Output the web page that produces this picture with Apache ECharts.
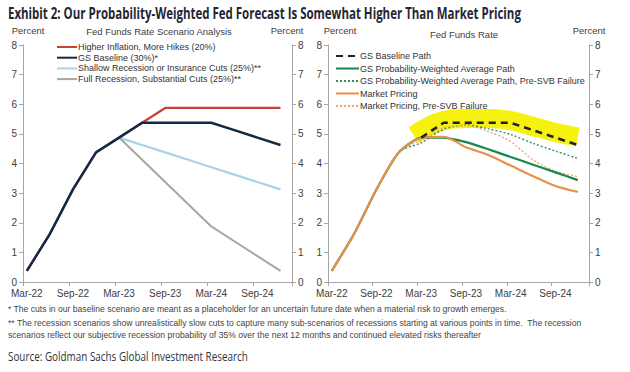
<!DOCTYPE html>
<html><head><meta charset="utf-8">
<script src="https://cdn.jsdelivr.net/npm/echarts@6/dist/echarts.min.js"></script>
<style>html,body{margin:0;padding:0;background:#fff}#c{width:630px;height:372px}</style>
</head><body><div id="c"></div>
<script>
// Monthly category axis (Mar-22 .. Jan-25)
const months = ['Mar-22','Apr-22','May-22','Jun-22','Jul-22','Aug-22','Sep-22','Oct-22','Nov-22','Dec-22','Jan-23','Feb-23',
  'Mar-23','Apr-23','May-23','Jun-23','Jul-23','Aug-23','Sep-23','Oct-23','Nov-23','Dec-23','Jan-24','Feb-24',
  'Mar-24','Apr-24','May-24','Jun-24','Jul-24','Aug-24','Sep-24','Oct-24','Nov-24','Dec-24','Jan-25'];
// Quarterly observation dates
const quarters = ['Mar-22','Jun-22','Sep-22','Dec-22','Mar-23','Jun-23','Sep-23','Dec-23','Mar-24','Jun-24','Sep-24','Dec-24'];
const yTicks = [0,1,2,3,4,5,6,7,8];

// Left panel: scenario analysis
const higherInflation = [0.375,1.625,3.125,4.375,4.875,5.375,5.875,5.875,5.875,5.875,5.875,5.875];
const gsBaseline      = [0.375,1.625,3.125,4.375,4.875,5.375,5.375,5.375,5.375,5.125,4.875,4.625];
const shallowRec      = [null,null,null,null,4.875,4.625,4.375,4.125,3.875,3.625,3.375,3.125];
const fullRec         = [null,null,null,null,4.875,4.125,3.375,2.625,1.875,1.375,0.875,0.375];

// Right panel: paths vs. market pricing
const baselinePath    = [null,null,null,null,4.875,5.375,5.375,5.375,5.375,5.125,4.875,4.625];
const probWeighted    = [0.375,1.625,3.125,4.375,4.875,4.875,4.72,4.48,4.22,3.96,3.70,3.44];
const probWeightedPre = [0.375,1.625,3.125,4.375,4.70,5.15,5.30,5.17,4.98,4.68,4.42,4.17];
const marketPricing   = [0.375,1.625,3.125,4.375,4.86,4.90,4.55,4.29,3.93,3.57,3.24,3.04];
const marketPricingPre= [0.375,1.625,3.125,4.375,4.80,5.20,5.28,5.08,4.74,4.12,3.74,3.56];
// Yellow hand highlight behind baseline path
const hlDates  = ['Feb-23','Jun-23','Sep-23','Dec-23','Mar-24','Jun-24','Sep-24','Dec-24'];
const hlValues = [4.95,5.45,5.52,5.52,5.45,5.25,5.05,4.9];

const titleText = 'Exhibit 2: Our Probability-Weighted Fed Forecast Is Somewhat Higher Than Market Pricing';
const sourceText = 'Source: Goldman Sachs Global Investment Research';

const zip = (cats, vals) => cats.map((c,i)=>[c, vals[i]]).filter(d=>d[1]!==null);

const FONT = '"Liberation Sans", Arial, sans-serif';
const axisGray = '#a6a6a6';
const labelColor = '#404040';

// measure text to fit condensed headline widths
const mctx = document.createElement('canvas').getContext('2d');
function fitScale(text, font, target){ mctx.font = font; return target / mctx.measureText(text).width; }
const titleFont = 'bold 16px "Open Sans", "Liberation Sans", sans-serif';
const sourceFont = '13px "Open Sans", "Liberation Sans", sans-serif';
const titleScale = fitScale(titleText, titleFont, 514);
const sourceScale = fitScale(sourceText, sourceFont, 240);

function xAxis(gi){
  return {type:'category', gridIndex:gi, data:months, boundaryGap:true,
    axisLine:{lineStyle:{color:axisGray}},
    axisTick:{show:true, interval:5, length:4, lineStyle:{color:axisGray}},
    axisLabel:{interval:5, color:labelColor, fontSize:10, fontFamily:FONT, margin:6},
    splitLine:{show:false}};
}
function yAxis(gi, pos){
  return {type:'value', gridIndex:gi, position:pos, min:0, max:8, interval:1,
    axisLine:{show:true, lineStyle:{color:axisGray}},
    axisTick:{show:true, length:4, lineStyle:{color:axisGray}},
    axisLabel:{color:labelColor, fontSize:10, fontFamily:FONT, margin:6,
      formatter:v=>yTicks.includes(v)?String(v):''},
    splitLine:{show:false}};
}
function line(name, xi, yi, cats, vals, color, width, extra){
  return Object.assign({name, type:'line', xAxisIndex:xi, yAxisIndex:yi, data:zip(cats, vals),
    symbol:'none', connectNulls:true, silent:true, animation:false,
    lineStyle:{color, width}, itemStyle:{color}}, extra||{});
}

const chart = echarts.init(document.getElementById('c'), null, {renderer:'svg'});
const txt = (x,y,t,opt,extra)=>Object.assign({type:'text', x, y, style:Object.assign({text:t, fill:'#404040', font:'10px '+FONT, textAlign:'center', textVerticalAlign:'middle'}, opt||{})}, extra||{});

const legendText = {fontSize:9, color:'#333', fontFamily:FONT, lineHeight:10, padding:[0,0,0,-4]};

chart.setOption({
  animation:false,
  backgroundColor:'#fff',
  grid:[
    {left:23, right:338, top:45, bottom:90},
    {left:328, right:41, top:45, bottom:90}
  ],
  xAxis:[xAxis(0), xAxis(1)],
  yAxis:[yAxis(0,'left'), yAxis(0,'right'), yAxis(1,'left'), yAxis(1,'right')],
  legend:[
    {left:56, top:42, orient:'vertical', itemWidth:20, itemHeight:8, itemGap:0.7, padding:0,
     itemStyle:{opacity:0}, textStyle:legendText,
     data:['Higher Inflation, More Hikes (20%)','GS Baseline (30%)*','Shallow Recession or Insurance Cuts (25%)**','Full Recession, Substantial Cuts (25%)**']},
    {left:335, top:51, orient:'vertical', itemWidth:23, itemHeight:8, itemGap:2.5, padding:0,
     itemStyle:{opacity:0}, textStyle:legendText,
     data:['GS Baseline Path','GS Probability-Weighted Average Path','GS Probability-Weighted Average Path, Pre-SVB Failure','Market Pricing','Market Pricing, Pre-SVB Failure']}
  ],
  series:[
    line('Higher Inflation, More Hikes (20%)',0,0,quarters,higherInflation,'#c9403c',2.2),
    line('Shallow Recession or Insurance Cuts (25%)**',0,0,quarters,shallowRec,'#a8d2ea',2.2),
    line('Full Recession, Substantial Cuts (25%)**',0,0,quarters,fullRec,'#a6a6a6',2),
    line('GS Baseline (30%)*',0,0,quarters,gsBaseline,'#112a47',2.5),

    line('highlight',1,2,hlDates,hlValues,'#f5f000',19,{smooth:0.4, lineStyle:{color:'#f5f000', width:19, opacity:0.95}}),
    line('GS Probability-Weighted Average Path, Pre-SVB Failure',1,2,quarters,probWeightedPre,'#2e8f70',1.4,{smooth:0.3, lineStyle:{color:'#2e8f70', width:1.4, type:[2,2]}}),
    line('Market Pricing, Pre-SVB Failure',1,2,quarters,marketPricingPre,'#efa675',1.4,{smooth:0.3, lineStyle:{color:'#efa675', width:1.4, type:[2,2]}}),
    line('GS Probability-Weighted Average Path',1,2,quarters,probWeighted,'#17894a',2.2,{smooth:0.2}),
    line('Market Pricing',1,2,quarters,marketPricing,'#e8914a',2.2,{smooth:0.3}),
    line('GS Baseline Path',1,2,quarters,baselinePath,'#1b2430',2.6,{lineStyle:{color:'#1b2430', width:2.6, type:[7,5]}})
  ],
  graphic:[
    txt(8,13,titleText,{font:titleFont, fill:'#1f2633', textAlign:'left'},{scaleX:titleScale}),
    txt(28,30,'Percent',{font:'9.5px '+FONT}),
    txt(159,31,'Fed Funds Rate Scenario Analysis',{font:'9.5px '+FONT}),
    txt(287,30,'Percent',{font:'9.5px '+FONT}),
    txt(340,30,'Percent',{font:'9.5px '+FONT}),
    txt(464,34,'Fed Funds Rate',{font:'9.5px '+FONT}),
    txt(589,30,'Percent',{font:'9.5px '+FONT}),
    txt(8,309,'* The cuts in our baseline scenario are meant as a placeholder for an uncertain future date when a material risk to growth emerges.',{font:'8.6px '+FONT, textAlign:'left', fill:'#444'}),
    txt(8,323,'** The recession scenarios show unrealistically slow cuts to capture many sub-scenarios of recessions starting at various points in time.  The recession',{font:'8.6px '+FONT, textAlign:'left', fill:'#444'}),
    txt(8,335,'scenarios reflect our subjective recession probability of 35% over the next 12 months and continued elevated risks thereafter',{font:'8.6px '+FONT, textAlign:'left', fill:'#444'}),
    txt(8,356,sourceText,{font:sourceFont, textAlign:'left', fill:'#2e3440'},{scaleX:sourceScale})
  ]
});
</script></body></html>
